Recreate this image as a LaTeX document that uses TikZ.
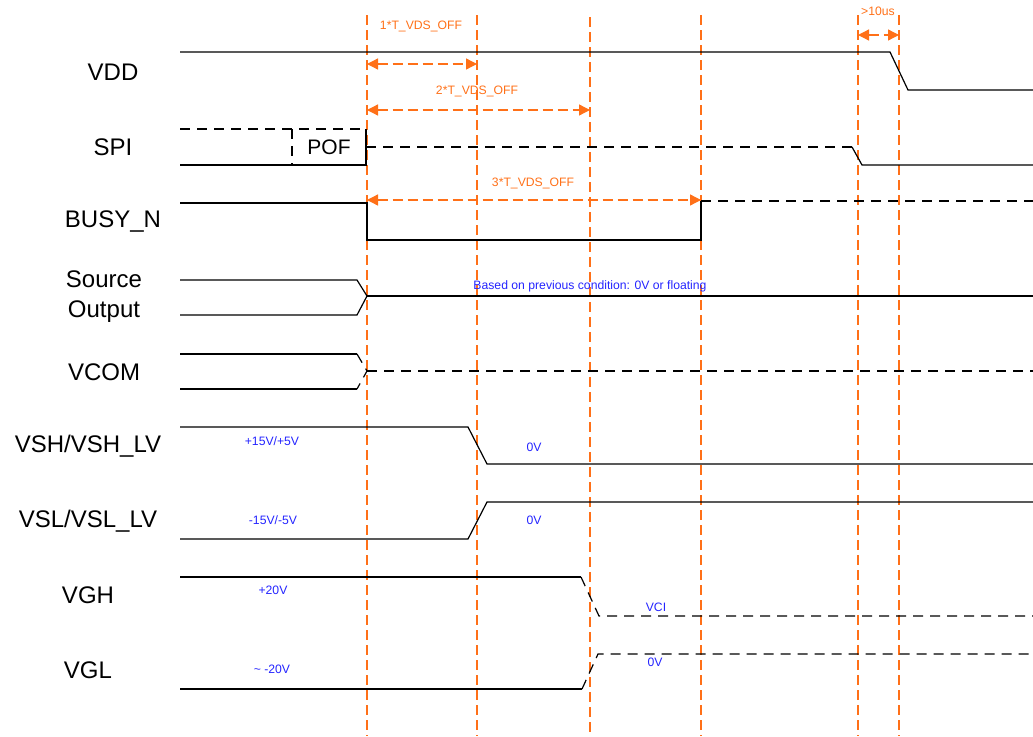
\documentclass[tikz,border=0pt]{standalone}
\usepackage{fontspec}
\setmainfont{Liberation Sans}
\usetikzlibrary{
  arrows.meta,
  calc
}
\definecolor{markcolor}{RGB}{255, 112, 24}
\definecolor{levelcolor}{RGB}{36, 36, 255}
\definecolor{wavecolor}{RGB}{0, 0, 0}
\tikzset{
signame/.style={
  font=\fontsize{24}{30}\selectfont,
  align=center,
  inner sep=0pt
},
wave/.style={
  draw=wavecolor,
  line width=1.2pt
},
dashwave/.style={
  wave,
  dash pattern=on 10pt off 7pt
},
marker/.style={
  draw=markcolor,
  line width=1.3pt,
  dash pattern=on 10pt off 5pt
},
timearrow/.style={
  marker,
  {Triangle[length=11pt,width=11pt]}-{Triangle[length=11pt,width=11pt]}
},
timelabel/.style={
  font=\fontsize{12.2}{14}\selectfont,
  text=markcolor,
  inner sep=0pt
},
levellabel/.style={
  font=\fontsize{12.2}{14}\selectfont,
  text=levelcolor,
  inner sep=0pt
}
}

\begin{document}
\begin{tikzpicture}[x=1pt, y=-1pt]
  \useasboundingbox (0,0) rectangle (1033,736);

  % time marks
  \coordinate (bot) at (0,736);
  \coordinate (t1) at (367,15);
  \coordinate (t2) at (477,15);
  \coordinate (t3) at (590,17);
  \coordinate (t4) at (701,15);
  \coordinate (t5) at (858,15);
  \coordinate (t6) at (899,15);
  \foreach \t in {t1,t2,t3,t4,t5,t6}
    \draw[marker] (\t) -- (\t |- bot);

  % signal names
  \node[signame] (vdd) at (113,72) {VDD};
  \node[signame] (spi) at (113,147) {SPI};
  \node[signame] (busy) at (113,222) {BUSY\_N};
  \node[signame] (src) at (104,297) {Source\\Output};
  \node[signame] (vcom) at (104,372) {VCOM};
  \node[signame] (vsh) at (88,446) {VSH/VSH\_LV};
  \node[signame] (vsl) at (88,521) {VSL/VSL\_LV};
  \node[signame] (vgh) at (88,595) {VGH};
  \node[signame] (vgl) at (88,670) {VGL};

  % timing arrows
  \draw[timearrow] (t1 |- 0,64) -- (t2 |- 0,64);
  \node[timelabel] (d1) at (421,26) {1*T\_VDS\_OFF};
  \draw[timearrow] (t1 |- 0,110) -- (t3 |- 0,110);
  \node[timelabel] (d2) at (477,91) {2*T\_VDS\_OFF};
  \draw[timearrow] (t1 |- 0,200) -- (t4 |- 0,200);
  \node[timelabel] (d3) at (533,183) {3*T\_VDS\_OFF};
  \draw[timearrow] (t5 |- 0,35) -- (t6 |- 0,35);
  \node[timelabel] (d4) at (878,11) {>10us};

  % VDD
  \draw[wave] (180,52) -- (890,52) -- (908,90) -- (1033,90);

  % SPI
  \draw[dashwave] (180,129) -- (366,129);
  \draw[wave] (180,165) -- (366,165) -- (366,129);
  \draw[dashwave] (292,129) -- (292,165);
  \node[font=\fontsize{21}{24}\selectfont, inner sep=0pt] (pof) at (329,147) {POF};
  \draw[dashwave] (366,147) -- (852,147);
  \draw[wave] (852,147) -- (862,165) -- (1033,165);

  % BUSY_N
  \draw[wave] (180,203) -- (367,203) -- (367,240) -- (701,240) -- (701,201);
  \draw[dashwave] (701,201) -- (1033,201);

  % Source Output
  \draw[wave] (180,280) -- (357,280) -- (367,296) -- (357,315) -- (180,315);
  \draw[wave] (367,296) -- (1033,296);
  \node[levellabel] (float) at (590,286) {Based on previous condition: 0V or floating};

  % VCOM
  \draw[wave] (180,354) -- (357,354);
  \draw[wave] (180,389) -- (357,389);
  \draw[dashwave] (357,354) -- (367,371) -- (357,389);
  \draw[dashwave] (367,371) -- (1033,371);

  % VSH / VSL
  \draw[wave] (180,427) -- (468,427) -- (487,464) -- (1033,464);
  \node[levellabel] (vshhi) at (272,441) {+15V/+5V};
  \node[levellabel] (vshlo) at (534,447) {0V};
  \draw[wave] (180,539) -- (468,539) -- (487,502) -- (1033,502);
  \node[levellabel] (vslhi) at (273,520) {-15V/-5V};
  \node[levellabel] (vsllo) at (534,520) {0V};

  % VGH / VGL
  \draw[wave] (180,577) -- (581,577);
  \draw[dashwave] (581,577) -- (599,616) -- (1033,616);
  \node[levellabel] (vghhi) at (273,590) {+20V};
  \node[levellabel] (vghlo) at (656,607) {VCI};
  \draw[wave] (180,689) -- (582,689);
  \draw[dashwave] (582,689) -- (598,654) -- (1033,654);
  \node[levellabel] (vglhi) at (272,669) {\textasciitilde\ -20V};
  \node[levellabel] (vgllo) at (655,662) {0V};
\end{tikzpicture}
\end{document}
